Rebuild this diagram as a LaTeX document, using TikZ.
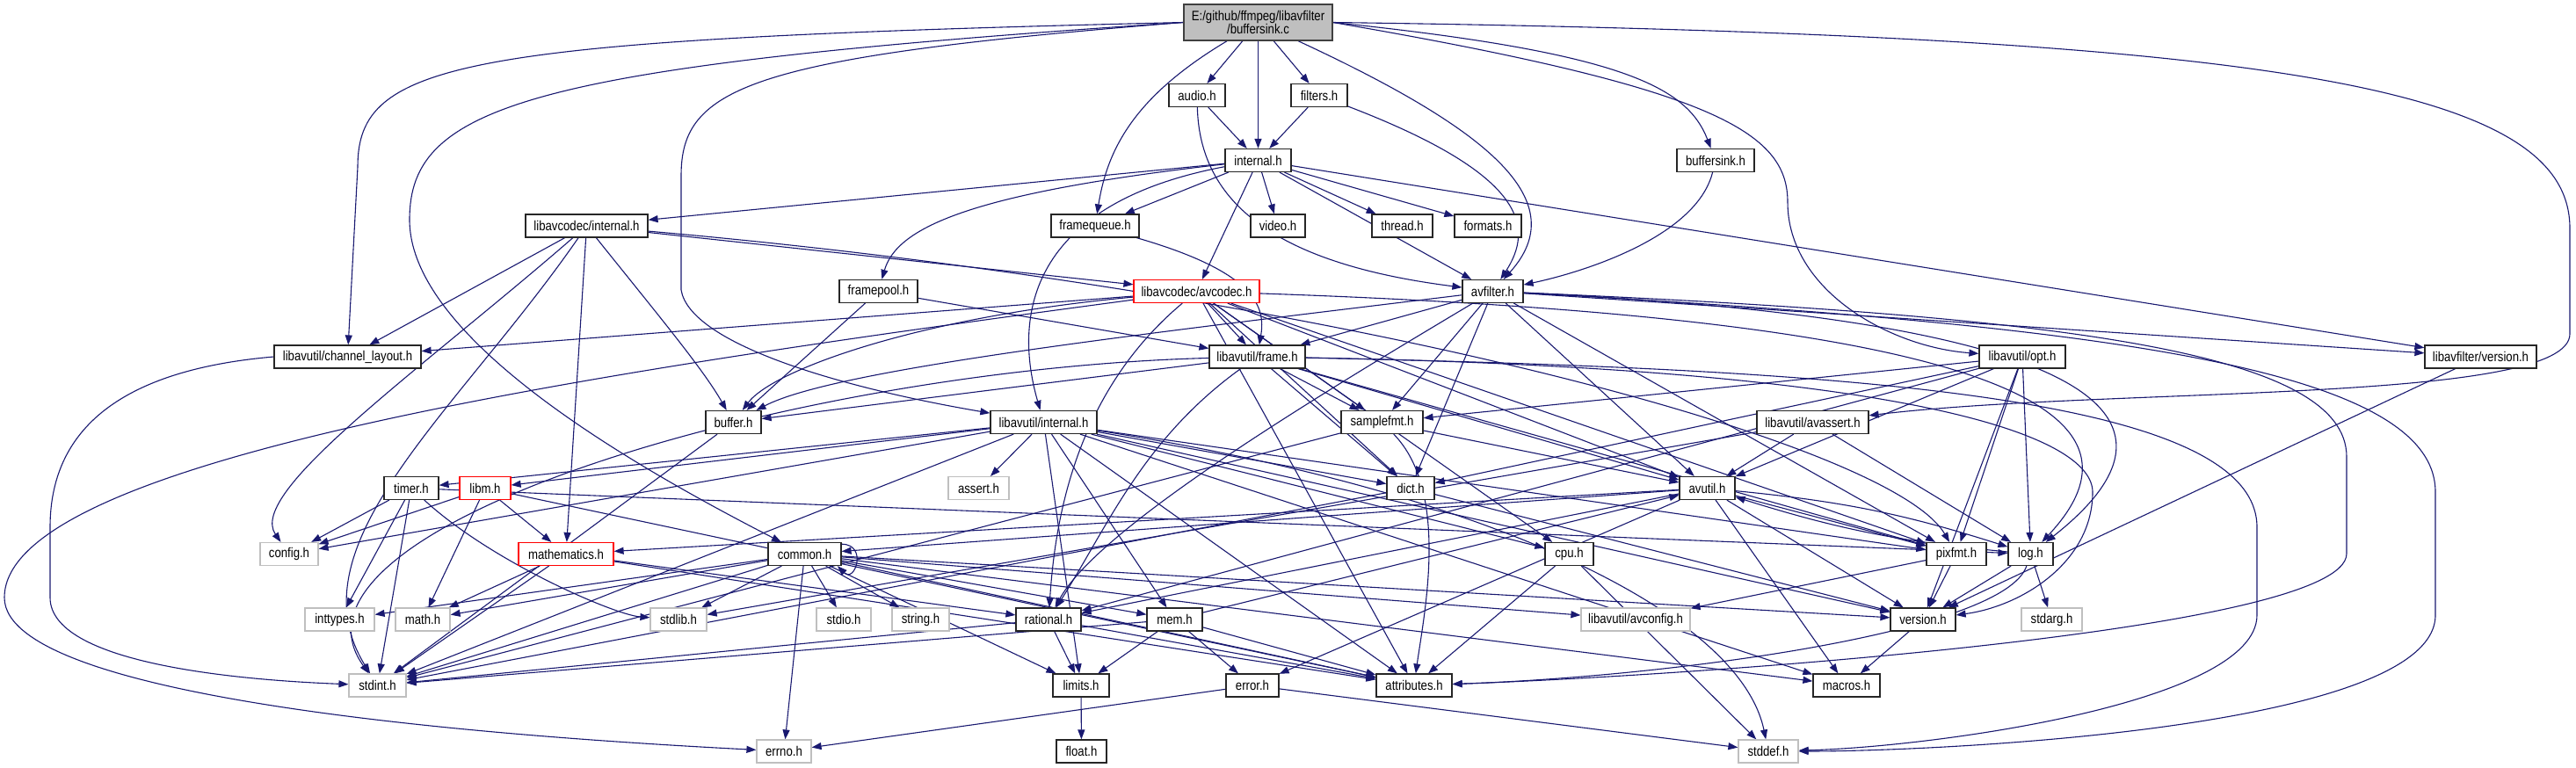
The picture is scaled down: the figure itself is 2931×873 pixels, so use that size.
\documentclass[tikz,border=0pt]{standalone}
\usepackage{fontspec}
\setmainfont{Liberation Sans}[FakeStretch=0.85]
\usetikzlibrary{arrows.meta,backgrounds}
\definecolor{edgeblue}{HTML}{191970}
\definecolor{extgray}{HTML}{BFBFBF}
\tikzset{
  box/.style={rectangle,fill=white,line width=1.2pt,minimum height=26,
              inner xsep=2pt,inner ysep=1pt,font=\fontsize{15.5}{16}\selectfont},
  doc/.style={box,draw=black!85},
  ext/.style={box,draw=extgray},
  trc/.style={box,draw=red},
  top/.style={box,draw=black!75,fill=extgray,align=center,
              font=\fontsize{15.5}{15.5}\selectfont},
  ar/.style ={-{Triangle[length=11pt,width=8pt]},draw=edgeblue,line width=1.1pt},
}
\begin{document}
\begin{tikzpicture}[x=1pt,y=-1pt]
  \useasboundingbox (0,0) rectangle (2931,873);
  % rank 0-2
  \node[top,minimum width=169,minimum height=41] (bsink) at (1431.5,25.5){E:/github/ffmpeg/libavfilter\\/buffersink.c};
  \node[doc,minimum width=64] (audio) at (1362,108.5){audio.h};
  \node[doc,minimum width=64] (filters) at (1501,108.5){filters.h};
  \node[doc,minimum width=75] (internal) at (1431.5,182.5){internal.h};
  \node[doc,minimum width=88] (buffersink) at (1952,182.5){buffersink.h};
  % rank 3-4
  \node[doc,minimum width=139] (lcint) at (667.5,257){libavcodec/internal.h};
  \node[doc,minimum width=100] (fqueue) at (1246,257){framequeue.h};
  \node[doc,minimum width=62] (video) at (1454,257){video.h};
  \node[doc,minimum width=69] (thread) at (1595.5,257){thread.h};
  \node[doc,minimum width=76] (formats) at (1693,257){formats.h};
  \node[doc,minimum width=89] (fpool) at (999.5,331.5){framepool.h};
  \node[trc,minimum width=143] (avcodec) at (1361.5,331.5){libavcodec/avcodec.h};
  \node[doc,minimum width=69] (avfilter) at (1698.5,331.5){avfilter.h};
  % rank 5-6
  \node[doc,minimum width=167] (chlayout) at (395.5,406){libavutil/channel\_layout.h};
  \node[doc,minimum width=109] (frame) at (1430.5,406){libavutil/frame.h};
  \node[doc,minimum width=98] (opt) at (2301,406){libavutil/opt.h};
  \node[doc,minimum width=127] (lafver) at (2822.5,406){libavfilter/version.h};
  \node[doc,minimum width=63] (buffer) at (834.5,480.5){buffer.h};
  \node[doc,minimum width=121] (avuint) at (1187.5,480.5){libavutil/internal.h};
  \node[doc,minimum width=93] (smpfmt) at (1572.5,480.5){samplefmt.h};
  \node[doc,minimum width=127] (avassert) at (2062.5,480.5){libavutil/avassert.h};
  % rank 7-8
  \node[doc,minimum width=62] (timer) at (468,555.5){timer.h};
  \node[trc,minimum width=58] (libm) at (552,555.5){libm.h};
  \node[ext,minimum width=69] (assert) at (1113.5,555.5){assert.h};
  \node[doc,minimum width=54] (dict) at (1605,555.5){dict.h};
  \node[doc,minimum width=63] (avutil) at (1942.5,555.5){avutil.h};
  \node[ext,minimum width=66] (config) at (329,630.5){config.h};
  \node[trc,minimum width=108] (mathem) at (644,630.5){mathematics.h};
  \node[doc,minimum width=83] (common) at (915.5,630.5){common.h};
  \node[doc,minimum width=55] (cpu) at (1785.5,630.5){cpu.h};
  \node[doc,minimum width=68] (pixfmt) at (2226,630.5){pixfmt.h};
  \node[doc,minimum width=51] (log) at (2310.5,630.5){log.h};
  % rank 9-11
  \node[ext,minimum width=79] (inttypes) at (386.5,705){inttypes.h};
  \node[ext,minimum width=62] (math) at (481,705){math.h};
  \node[ext,minimum width=64] (stdlib) at (772,705){stdlib.h};
  \node[ext,minimum width=62] (stdio) at (960,705){stdio.h};
  \node[ext,minimum width=65] (string) at (1047.5,705){string.h};
  \node[doc,minimum width=74] (rational) at (1193,705){rational.h};
  \node[doc,minimum width=63] (mem) at (1336.5,705){mem.h};
  \node[ext,minimum width=124] (avconfig) at (1861,705){libavutil/avconfig.h};
  \node[doc,minimum width=74] (version) at (2188,705){version.h};
  \node[ext,minimum width=69] (stdarg) at (2334.5,705){stdarg.h};
  \node[ext,minimum width=65] (stdint) at (429.5,780){stdint.h};
  \node[doc,minimum width=64] (limits) at (1230,780){limits.h};
  \node[doc,minimum width=60] (error) at (1425,780){error.h};
  \node[doc,minimum width=86] (attrib) at (1609,780){attributes.h};
  \node[doc,minimum width=76] (macros) at (2101,780){macros.h};
  \node[ext,minimum width=62] (errno) at (892,855){errno.h};
  \node[doc,minimum width=57] (float) at (1230.5,855){float.h};
  \node[ext,minimum width=68] (stddef) at (2012,855){stddef.h};

  \begin{scope}[on background layer]
  % buffersink.c
  \draw[ar] (bsink.west) .. controls (520,45) and (407,70) .. (407,190) -- (chlayout);
  \draw[ar] (bsink.west) .. controls (850,65) and (775,100) .. (775,200) -- (775,330) .. controls (785,390) and (950,440) .. (avuint);
  \draw[ar] (bsink.west) .. controls (600,75) and (466,120) .. (466,250) .. controls (466,380) and (700,520) .. (common);
  \draw[ar] (bsink) .. controls (1290,110) and (1260,170) .. (fqueue);
  \draw[ar] (bsink) -- (audio);
  \draw[ar] (bsink) -- (internal);
  \draw[ar] (bsink) -- (filters);
  \draw[ar] (bsink) .. controls (1700,150) and (1790,230) .. (avfilter);
  \draw[ar] (bsink.east) .. controls (1850,60) and (1920,100) .. (buffersink);
  \draw[ar] (bsink.east) .. controls (1950,100) and (2034,150) .. (2034,230) .. controls (2034,330) and (2150,395) .. (opt);
  \draw[ar] (bsink.east) .. controls (2600,40) and (2924,100) .. (2924,260) -- (2924,380) .. controls (2924,460) and (2400,440) .. (avassert);
  % audio.h, filters.h, buffersink.h
  \draw[ar] (audio) -- (internal);
  \draw[ar] (audio) .. controls (1365,230) and (1450,300) .. (avfilter);
  \draw[ar] (filters) -- (internal);
  \draw[ar] (filters) .. controls (1740,200) and (1745,260) .. (avfilter);
  \draw[ar] (buffersink) .. controls (1930,270) and (1800,310) .. (avfilter);
  % internal.h
  \draw[ar] (internal) -- (lcint);
  \draw[ar] (internal) -- (fqueue);
  \draw[ar] (internal) .. controls (1100,220) and (1020,260) .. (fpool);
  \draw[ar] (internal) -- (video);
  \draw[ar] (internal) -- (thread);
  \draw[ar] (internal) -- (formats);
  \draw[ar] (internal) -- (avfilter);
  \draw[ar] (internal) -- (avcodec);
  \draw[ar] (internal) .. controls (1180,230) and (1150,350) .. (avuint);
  \draw[ar] (internal) -- (lafver);
  % libavcodec/internal.h
  \draw[ar] (lcint) -- (chlayout);
  \draw[ar] (lcint) -- (avcodec);
  \draw[ar] (lcint) .. controls (750,360) and (800,420) .. (buffer);
  \draw[ar] (lcint) -- (mathem);
  \draw[ar] (lcint) .. controls (520,470) and (330,620) .. (stdint);
  \draw[ar] (lcint) .. controls (480,420) and (280,560) .. (config);
  \draw[ar] (lcint) .. controls (1500,330) and (2150,500) .. (pixfmt);
  \draw[ar] (chlayout.west) .. controls (150,420) and (57,480) .. (57,600) -- (57,680) .. controls (57,760) and (300,775) .. (stdint);
  \draw[ar] (fqueue) .. controls (1430,310) and (1440,350) .. (frame);
  \draw[ar] (fpool) -- (frame);
  \draw[ar] (fpool) -- (buffer);
  % libavcodec/avcodec.h
  \draw[ar] (avcodec) -- (chlayout);
  \draw[ar] (avcodec) .. controls (700,420) and (5,520) .. (5,680) .. controls (5,800) and (600,840) .. (errno);
  \draw[ar] (avcodec) -- (smpfmt);
  \draw[ar] (avcodec) -- (attrib);
  \draw[ar] (avcodec) -- (avutil);
  \draw[ar] (avcodec) .. controls (1050,360) and (880,420) .. (buffer);
  \draw[ar] (avcodec) -- (cpu);
  \draw[ar] (avcodec) -- (dict);
  \draw[ar] (avcodec) -- (frame);
  \draw[ar] (avcodec) .. controls (2200,360) and (2480,450) .. (log);
  \draw[ar] (avcodec) -- (pixfmt);
  \draw[ar] (avcodec) .. controls (1220,450) and (1200,600) .. (rational);
  % avfilter.h
  \draw[ar] (avfilter) .. controls (2400,370) and (2771,420) .. (2771,560) -- (2771,700) .. controls (2771,830) and (2200,855) .. (stddef);
  \draw[ar] (avfilter) .. controls (2350,360) and (2670,400) .. (2670,520) -- (2670,630) .. controls (2670,720) and (1900,770) .. (attrib);
  \draw[ar] (avfilter) -- (avutil);
  \draw[ar] (avfilter) .. controls (1300,380) and (950,420) .. (buffer);
  \draw[ar] (avfilter) -- (dict);
  \draw[ar] (avfilter) -- (frame);
  \draw[ar] (avfilter) .. controls (2300,360) and (2540,450) .. (log);
  \draw[ar] (avfilter) -- (smpfmt);
  \draw[ar] (avfilter) -- (pixfmt);
  \draw[ar] (avfilter) .. controls (1500,450) and (1250,600) .. (rational);
  \draw[ar] (avfilter) -- (lafver);
  % libavutil/frame.h
  \draw[ar] (frame) .. controls (2100,420) and (2568,450) .. (2568,600) -- (2568,700) .. controls (2568,800) and (2200,850) .. (stddef);
  \draw[ar] (frame) .. controls (900,420) and (300,600) .. (stdint);
  \draw[ar] (frame) -- (avutil);
  \draw[ar] (frame) -- (buffer);
  \draw[ar] (frame) -- (dict);
  \draw[ar] (frame) .. controls (1300,500) and (1260,600) .. (rational);
  \draw[ar] (frame) -- (smpfmt);
  \draw[ar] (frame) -- (pixfmt);
  \draw[ar] (frame) .. controls (2200,420) and (2381,500) .. (2381,560) .. controls (2381,640) and (2300,690) .. (version);
  % libavutil/opt.h
  \draw[ar] (opt) -- (rational);
  \draw[ar] (opt) -- (avutil);
  \draw[ar] (opt) -- (dict);
  \draw[ar] (opt) -- (log);
  \draw[ar] (opt) -- (pixfmt);
  \draw[ar] (opt) -- (smpfmt);
  \draw[ar] (opt) -- (version);
  \draw[ar] (lafver) -- (version);
  \draw[ar] (buffer) -- (stdint);
  % libavutil/internal.h
  \draw[ar] (avuint) -- (limits);
  \draw[ar] (avuint) -- (stdint);
  \draw[ar] (avuint) .. controls (1700,560) and (1980,700) .. (stddef);
  \draw[ar] (avuint) -- (assert);
  \draw[ar] (avuint) -- (config);
  \draw[ar] (avuint) -- (attrib);
  \draw[ar] (avuint) -- (timer);
  \draw[ar] (avuint) -- (cpu);
  \draw[ar] (avuint) -- (dict);
  \draw[ar] (avuint) -- (macros);
  \draw[ar] (avuint) -- (mem);
  \draw[ar] (avuint) -- (pixfmt);
  \draw[ar] (avuint) -- (version);
  \draw[ar] (avuint) -- (libm);
  % samplefmt.h, avassert.h
  \draw[ar] (smpfmt) -- (stdint);
  \draw[ar] (smpfmt) -- (avutil);
  \draw[ar] (smpfmt) .. controls (1650,560) and (1620,700) .. (attrib);
  \draw[ar] (avassert) -- (stdlib);
  \draw[ar] (avassert) -- (avutil);
  \draw[ar] (avassert) -- (log);
  % timer.h, libm.h, dict.h
  \draw[ar] (timer) -- (config);
  \draw[ar] (timer) -- (stdint);
  \draw[ar] (timer) -- (inttypes);
  \draw[ar] (timer) .. controls (560,640) and (700,700) .. (stdlib);
  \draw[ar] (timer) -- (log);
  \draw[ar] (libm) -- (config);
  \draw[ar] (libm) -- (math);
  \draw[ar] (libm) -- (attrib);
  \draw[ar] (libm) -- (mathem);
  \draw[ar] (dict) -- (stdint);
  \draw[ar] (dict) -- (version);
  % avutil.h
  \draw[ar] (avutil) -- (common);
  \draw[ar] (avutil) -- (error);
  \draw[ar] (avutil) -- (rational);
  \draw[ar] (avutil) -- (version);
  \draw[ar] (avutil) -- (macros);
  \draw[ar] (avutil) -- (mathem);
  \draw[ar] (avutil) to[bend left=6] (log);
  \draw[ar] (avutil) -- (pixfmt);
  % mathematics.h
  \draw[ar] (mathem) -- (stdint);
  \draw[ar] (mathem) -- (math);
  \draw[ar] (mathem) -- (attrib);
  \draw[ar] (mathem) -- (rational);
  % common.h
  \draw[ar] (common) -- (errno);
  \draw[ar] (common) -- (inttypes);
  \draw[ar] (common) -- (limits);
  \draw[ar] (common) -- (math);
  \draw[ar] (common) -- (stdint);
  \draw[ar] (common) -- (stdio);
  \draw[ar] (common) -- (stdlib);
  \draw[ar] (common) -- (string);
  \draw[ar] (common) -- (attrib);
  \draw[ar] (common) -- (macros);
  \draw[ar] (common) -- (version);
  \draw[ar] (common) -- (avconfig);
  \draw[ar] (common) -- (mem);
  \draw[ar] (common.15) .. controls +(30,0) and +(20,20) .. (common.-20);
  % cpu.h, pixfmt.h, log.h
  \draw[ar] (cpu) -- (attrib);
  \draw[ar] (cpu) -- (stddef);
  \draw[ar] (pixfmt) -- (avconfig);
  \draw[ar] (pixfmt) -- (version);
  \draw[ar] (log) -- (stdarg);
  \draw[ar] (log) to[bend left=6] (avutil);
  \draw[ar] (log) .. controls (2280,720) and (1900,770) .. (attrib);
  \draw[ar] (log) -- (version);
  \draw[ar] (version) -- (macros);
  % rational.h, mem.h, error.h, limits.h
  \draw[ar] (rational) -- (stdint);
  \draw[ar] (rational) -- (limits);
  \draw[ar] (rational) -- (attrib);
  \draw[ar] (mem) -- (limits);
  \draw[ar] (mem) -- (stdint);
  \draw[ar] (mem) -- (attrib);
  \draw[ar] (mem) -- (error);
  \draw[ar] (mem) -- (avutil);
  \draw[ar] (error) -- (errno);
  \draw[ar] (error) -- (stddef);
  \draw[ar] (limits) -- (float);
  \end{scope}
\end{tikzpicture}
\end{document}
